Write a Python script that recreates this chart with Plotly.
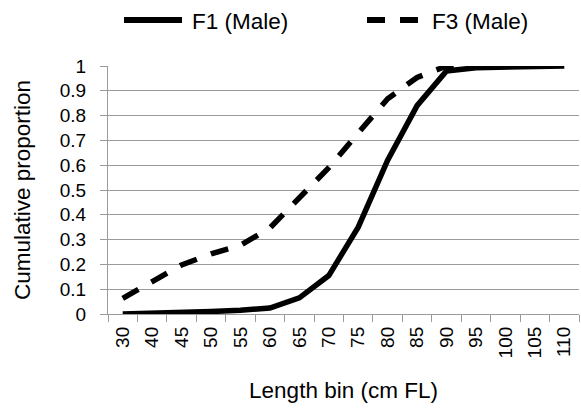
import plotly.graph_objects as go

length_bins = ["30", "40", "45", "50", "55", "60", "65", "70", "75", "80",
               "85", "90", "95", "100", "105", "110"]
f1_male = [0.0, 0.002, 0.005, 0.01, 0.015, 0.024, 0.065, 0.155, 0.35, 0.62,
           0.84, 0.98, 0.993, 0.997, 1.0, 1.0]
f3_male = [0.063, 0.133, 0.198, 0.242, 0.277, 0.347, 0.465, 0.59, 0.73, 0.868,
           0.954, 1.0, 1.0, 1.0, 1.0, 1.0]
series_names = ["F1 (Male)", "F3 (Male)"]
y_ticks = [0, 0.1, 0.2, 0.3, 0.4, 0.5, 0.6, 0.7, 0.8, 0.9, 1]
y_tick_labels = ["0", "0.1", "0.2", "0.3", "0.4", "0.5", "0.6", "0.7", "0.8", "0.9", "1"]

FONT = "Liberation Sans, Arial, sans-serif"
GRAY = "#9a9a9a"
W, H = 581, 409
L, R, T, B = 108, 2, 66, 95
PW, PH = W - L - R, H - T - B

fig = go.Figure()
fig.add_trace(go.Scatter(x=length_bins, y=f1_male, mode="lines", name=series_names[0],
                         line=dict(color="black", width=5.5), showlegend=False))
fig.add_trace(go.Scatter(x=length_bins, y=f3_male, mode="lines", name=series_names[1],
                         line=dict(color="black", width=5.5, dash="18px,15px"),
                         showlegend=False))

def px_x(px):
    return (px - L) / PW

def px_y(py):
    return (H - B - py) / PH

# custom legend (line samples + labels)
legend_items = [
    (series_names[0], "solid", 124, 182, 190),
    (series_names[1], "18px,15px", 367, 420, 430),
]
for name, dash, x0, x1, tx in legend_items:
    fig.add_shape(type="line", xref="paper", yref="paper",
                  x0=px_x(x0), x1=px_x(x1), y0=px_y(20), y1=px_y(20),
                  line=dict(color="black", width=6, dash=dash))
    fig.add_annotation(xref="paper", yref="paper", x=px_x(tx), y=px_y(21),
                       text=name, showarrow=False, xanchor="left", yanchor="middle",
                       font=dict(family=FONT, size=22.5, color="black"))

fig.update_layout(
    width=W, height=H,
    margin=dict(l=L, r=R, t=T, b=B, autoexpand=False),
    paper_bgcolor="white", plot_bgcolor="white",
    font=dict(family=FONT, color="black"),
    showlegend=False,
)
fig.update_xaxes(
    type="category", range=[-0.5, len(length_bins) - 0.5],
    tickson="boundaries", ticks="outside", ticklen=7, tickwidth=1.3, tickcolor=GRAY,
    showline=True, linecolor=GRAY, linewidth=1.3, showgrid=False, zeroline=False,
    tickangle=-90, tickfont=dict(family=FONT, size=19, color="black"),
    ticklabelstandoff=4,
    title=dict(text="Length bin (cm FL)", font=dict(family=FONT, size=22.5, color="black"),
               standoff=24),
    automargin=False,
)
fig.update_yaxes(
    range=[0, 1], tickvals=y_ticks, ticktext=y_tick_labels,
    ticks="outside", ticklen=7, tickwidth=1.3, tickcolor=GRAY,
    showline=True, linecolor=GRAY, linewidth=1.3,
    showgrid=True, gridcolor=GRAY, gridwidth=1.3, zeroline=False,
    tickfont=dict(family=FONT, size=19, color="black"),
    ticklabelstandoff=10,
    title=dict(text="Cumulative proportion", font=dict(family=FONT, size=22.5, color="black"),
               standoff=22),
    automargin=False,
)

fig.write_html("out.html", config={"displayModeBar": False},
               post_script="document.body.style.margin='0';document.body.style.overflow='hidden';")
